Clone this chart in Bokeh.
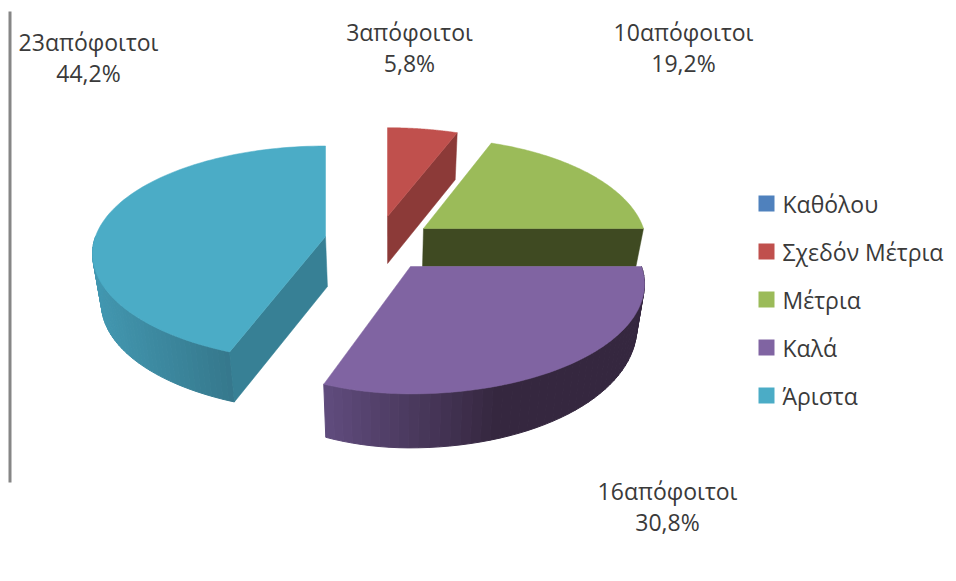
import numpy as np
from bokeh.plotting import figure
from bokeh.models import Range1d
from bokeh.core.properties import value
from bokeh.embed import file_html
from bokeh.resources import INLINE

categories = ["Καθόλου", "Σχεδόν Μέτρια", "Μέτρια", "Καλά", "Άριστα"]
graduates = [0, 3, 10, 16, 23]
percent_labels = ["0,0%", "5,8%", "19,2%", "30,8%", "44,2%"]
colors = ["#4f81bd", "#c0504d", "#9bbb59", "#8064a2", "#4bacc6"]

# layout of the exploded 3D slices (screen pixels): centre, radii, depth
GEOM = {
    1: dict(cx=387, cy=216, rl=226, rr=226, ry=103, d0=47, dk=0),
    2: dict(cx=423, cy=228, rl=220, rr=220, ry=105, d0=38, dk=0),
    3: dict(cx=410, cy=266, rl=208, rr=231, ry=107, d0=41, dk=-13),
    4: dict(cx=325, cy=236, rl=230, rr=230, ry=105, d0=50, dk=0),
}
K = 0.16
SHRINK = 0.03          # converging verticals of the lower face
VANISH_X = 390
CUT = {1: "#8c3a38", 2: "#3f4a22", 4: "#378095"}
RIM = {3: ("#5f4b7c", "#35273f"), 4: ("#4297b0", "#35778b")}
LABEL_POS = {1: (409, 31), 2: (683, 31), 3: (667, 490), 4: (88, 41)}
LEGEND_Y = [203, 251, 299, 347, 395]

total = sum(graduates)
edges = np.cumsum([0] + graduates) / total * 2 * np.pi


def project(i, a):
    g = GEOM[i]
    a = np.asarray(a, dtype=float)
    u, v = np.sin(a), np.cos(a)
    w = 1 + K * v
    rx = np.where(u > 0, g["rr"], g["rl"])
    return g["cx"] + rx * u / w, g["cy"] - g["ry"] * v / w


def depth(i, a):
    g = GEOM[i]
    return g["d0"] + g["dk"] * np.cos(a)


def lower(x):
    return x + SHRINK * (VANISH_X - x)


def mix(c1, c2, t):
    a = [int(c1[j:j + 2], 16) for j in (1, 3, 5)]
    b = [int(c2[j:j + 2], 16) for j in (1, 3, 5)]
    return "#%02x%02x%02x" % tuple(int(round(p + (q - p) * t)) for p, q in zip(a, b))


p = figure(width=950, height=570, x_range=Range1d(0, 950), y_range=Range1d(570, 0),
           output_backend="svg", toolbar_location=None, min_border=0,
           x_axis_location=None, y_axis_location=None, outline_line_color=None,
           background_fill_color="white", border_fill_color="white")
p.xgrid.visible = False
p.ygrid.visible = False

# left rule of the original frame
p.quad(left=[8], right=[11], top=[11], bottom=[482], fill_color="#868686", line_color=None)

for i in [1, 2, 4, 3]:
    if graduates[i] == 0:
        continue
    g = GEOM[i]
    a0, a1 = edges[i], edges[i + 1]
    ang = np.linspace(a0, a1, 90)
    xs, ys = project(i, ang)

    # outer rim with shading, only for the part that faces the viewer
    if i in RIM:
        lo, hi = max(a0, np.pi / 2), min(a1, 3 * np.pi / 2)
        seg = np.linspace(lo, hi, 50)
        sx, sy = project(i, seg)
        sd = depth(i, seg)
        left_x, right_x = sx.min(), sx.max()
        for j in range(len(seg) - 1):
            t = (min(sx[j], sx[j + 1]) - left_x) / (right_x - left_x)
            t = min(1, t * (1.9 if i == 3 else 1.0))
            c = mix(*RIM[i], t)
            p.patch([sx[j], sx[j + 1], lower(sx[j + 1]), lower(sx[j])],
                    [sy[j], sy[j + 1], sy[j + 1] + sd[j + 1], sy[j] + sd[j]],
                    fill_color=c, line_color=c, line_width=1)

    # flat cut faces
    if i in CUT:
        ex, ey = project(i, [a0 if i == 4 else a1])
        dd = float(depth(i, a0 if i == 4 else a1))
        p.patch([g["cx"], ex[0], lower(ex[0]), lower(g["cx"])],
                [g["cy"], ey[0], ey[0] + dd, g["cy"] + g["d0"]],
                fill_color=CUT[i], line_color=CUT[i], line_width=0.5)

    # top face
    p.patch(np.r_[g["cx"], xs], np.r_[g["cy"], ys], fill_color=colors[i], line_color=colors[i], line_width=0.5)

# data labels
for i, (lx, ly) in LABEL_POS.items():
    p.text([lx], [ly], text=[f"{graduates[i]}απόφοιτοι"], text_align="center", text_baseline="middle",
           text_font=value("Open Sans"), text_font_size="23px", text_color="#3a3a3a")
    p.text([lx], [ly + 31], text=[percent_labels[i]], text_align="center", text_baseline="middle",
           text_font=value("Open Sans"), text_font_size="23px", text_color="#3a3a3a")

# legend
for c, name, y in zip(colors, categories, LEGEND_Y):
    p.quad(left=[758], right=[774], top=[y - 8], bottom=[y + 8], fill_color=c, line_color=None)
    p.text([782], [y], text=[name], text_align="left", text_baseline="middle",
           text_font=value("Open Sans"), text_font_size="23px", text_color="#3a3a3a")

open("out.html", "w").write(file_html(p, INLINE))
